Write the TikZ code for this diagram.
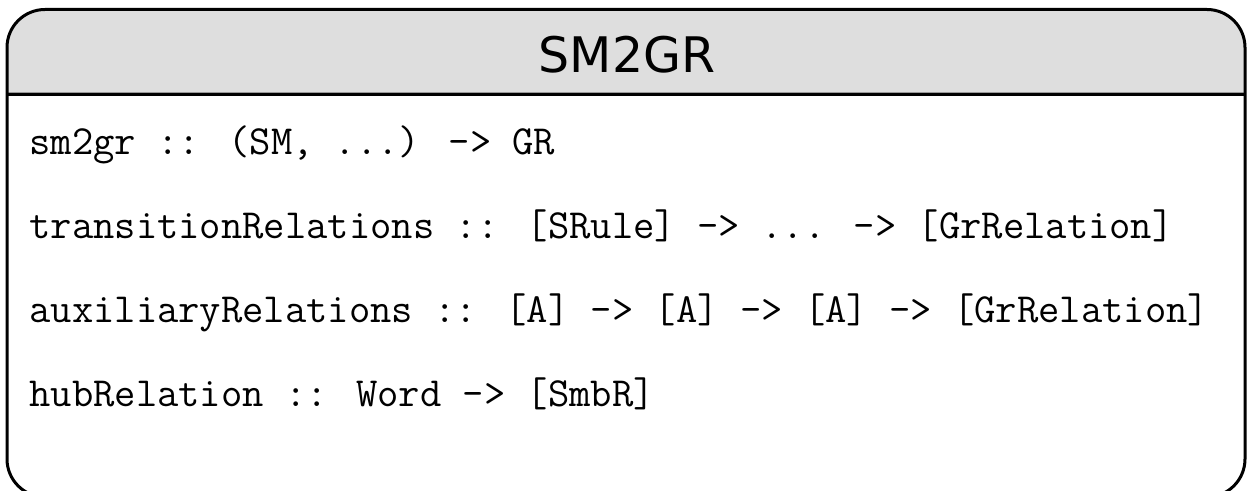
\documentclass[tikz,border=0pt]{standalone}
\usepackage{fontspec}
\setmainfont{DejaVu Sans}
\begin{document}
\begin{tikzpicture}[x=0.5pt,y=-0.5pt,
  codeline/.style={anchor=base west,inner sep=0pt,font=\ttfamily\fontsize{20.7pt}{24pt}\selectfont},
  titletext/.style={anchor=base,inner sep=0pt,font=\fontsize{24.5pt}{28pt}\selectfont}]
\useasboundingbox (0,0) rectangle (1254,491);
\fill[black!13, rounded corners=19pt] (7,94) -- (7,9.5) -- (1245,9.5) [sharp corners] -- (1245,94) -- cycle;
\draw[black!40, line width=0.5pt] (7,92.5) -- (1245,92.5);
\draw[line width=1.1pt] (7,94.5) -- (1245,94.5);
\draw[line width=1.5pt, rounded corners=19pt] (7,9.5) rectangle (1245,497);
\node[titletext] (title) at (627,73) {SM2GR};
\node[codeline] (l1) at (29,155) {sm2gr :: (SM, ...) -> GR};
\node[codeline] (l2) at (29,239) {transitionRelations :: [SRule] -> ... -> [GrRelation]};
\node[codeline] (l3) at (29,323) {auxiliaryRelations :: [A] -> [A] -> [A] -> [GrRelation]};
\node[codeline] (l4) at (29,407) {hubRelation :: Word -> [SmbR]};
\end{tikzpicture}
\end{document}
